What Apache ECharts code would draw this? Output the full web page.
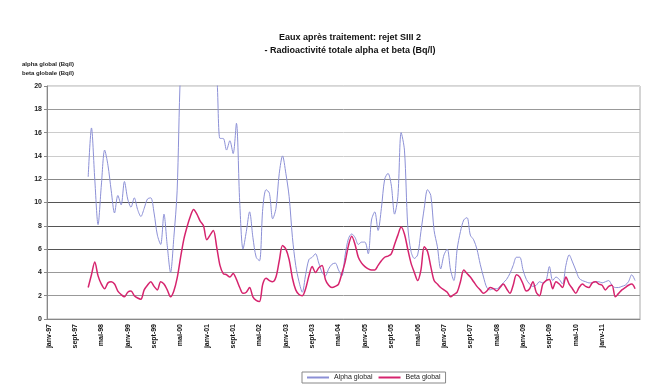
<!DOCTYPE html>
<html>
<head>
<meta charset="utf-8">
<script src="https://cdn.jsdelivr.net/npm/echarts@6/dist/echarts.min.js"></script>
<style>
  html, body { margin: 0; padding: 0; background: #fff; }
  #chart { width: 660px; height: 390px; }
</style>
</head>
<body>
<div id="chart"></div>
<script>
// Eaux après traitement - alpha / beta global, mensuel
const MONTHS = ["janv", "févr", "mars", "avr", "mai", "juin", "juil", "août", "sept", "oct", "nov", "déc"];
const START_YEAR = 1997;
const N_MONTHS = 180;
const FIRST_DATA = 12; // pas de mesure la première année

const alphaGlobal = [
  12.2, 16.4, 12.0, 8.1, 11.5, 14.5, 13.2, 11.0, 9.1, 10.6,
  9.8, 11.8, 10.3, 9.6, 10.4, 9.4, 8.8, 9.5, 10.3, 10.4,
  9.1, 7.2, 6.4, 9.0, 6.3, 4.0, 7.0, 11.0, 21.0, 24.0,
  23.0, 25.0, 24.0, 22.0, 24.0, 23.0, 25.0, 24.0, 22.0, 21.0,
  15.5, 15.5, 14.5, 15.3, 14.2, 16.8, 10.0, 6.0, 7.5, 9.2,
  7.0, 5.3, 5.0, 9.5, 11.1, 10.8, 8.6, 9.5, 12.5, 14.0,
  12.5, 10.5, 7.0, 4.6, 3.2, 2.3, 3.8, 5.1, 5.3, 5.6,
  4.8, 4.0, 3.7, 4.3, 4.7, 4.8, 4.2, 3.7, 5.5, 6.9,
  7.3, 7.0, 6.4, 6.6, 6.6, 5.6, 8.5, 9.2, 7.6, 9.5,
  12.0, 12.5, 11.5, 9.0, 10.5, 16.0, 14.5, 8.0, 5.8, 5.2,
  5.5, 7.5, 9.5, 11.1, 10.6, 7.6, 6.2, 4.3, 5.5, 6.0,
  4.2, 3.3, 6.0, 7.5, 8.5, 8.7, 7.2, 6.8, 6.0, 4.7,
  3.6, 2.7, 2.5, 2.6, 2.6, 2.8, 3.1, 3.4, 3.9, 4.6,
  5.3, 5.3, 4.2, 3.4, 3.0, 2.8, 2.9, 3.2, 3.1, 3.3,
  4.5, 3.3, 3.6, 3.4, 3.0, 4.6, 5.5, 4.9, 4.2, 3.5,
  3.3, 3.2, 3.1, 3.1, 3.2, 3.2, 3.1, 3.2, 3.3, 2.9,
  2.7, 2.7, 2.8, 2.9, 3.2, 3.8, 3.3
];

const betaGlobal = [
  2.7, 3.8, 4.9, 3.7, 3.0, 2.6, 3.1, 3.2, 3.0, 2.4,
  2.1, 1.9, 2.3, 2.4, 2.0, 1.8, 1.7, 2.5, 2.9, 3.2,
  2.8, 2.5, 3.2, 3.0, 2.5, 1.9, 2.4, 3.5, 5.2, 6.8,
  7.9, 8.8, 9.4, 9.0, 8.4, 8.0, 6.8, 7.2, 7.6, 6.2,
  4.6, 3.9, 3.8, 3.6, 3.9, 3.4, 2.7, 2.2, 2.3, 2.7,
  1.9, 1.6, 1.5, 3.0, 3.5, 3.3, 3.2, 3.6, 5.0, 6.3,
  6.0, 5.1, 3.5, 2.5, 2.1, 2.0, 2.6, 3.7, 4.5, 4.0,
  4.4, 4.6, 3.4, 2.9, 2.7, 2.8, 3.0, 3.9, 4.9, 6.3,
  7.1, 6.4, 5.3, 4.8, 4.5, 4.3, 4.2, 4.2, 4.6, 5.0,
  5.3, 5.4, 5.6, 6.4, 7.2, 7.9, 7.3, 6.0, 4.8, 4.0,
  3.3, 4.2, 6.2, 5.8, 4.5, 3.3, 3.0, 2.7, 2.5, 2.3,
  1.9, 2.1, 2.3, 3.2, 4.2, 3.9, 3.6, 3.2, 2.8, 2.5,
  2.2, 2.4, 2.7, 2.6, 2.4, 2.7, 3.0, 2.6, 2.2, 2.9,
  3.8, 3.6, 3.0, 2.4, 2.6, 3.2, 2.3, 2.0, 3.0, 3.3,
  3.4, 2.6, 3.2, 3.0, 2.7, 3.6, 3.0, 2.6, 2.2, 2.7,
  3.0, 2.8, 2.7, 3.1, 3.2, 3.0, 2.9, 2.5, 2.8, 2.9,
  1.9, 2.2, 2.5, 2.7, 2.9, 3.0, 2.6
];

const yTicks = [0, 2, 4, 6, 8, 10, 12, 14, 16, 18, 20];
const gridColors = ["#999", "#999", "#999", "#555", "#555", "#555", "#888", "#ccc", "#ccc", "#999", "#ddd"];

const categories = [];
for (let i = 0; i < N_MONTHS; i++) {
  const y = START_YEAR + Math.floor(i / 12);
  categories.push(MONTHS[i % 12] + "-" + String(y % 100).padStart(2, "0"));
}
function pad(arr) {
  const out = new Array(N_MONTHS).fill(null);
  arr.forEach(function (v, k) { out[FIRST_DATA + k] = v; });
  return out;
}

const FONT = "Liberation Sans";
const chart = echarts.init(document.getElementById("chart"), null, { renderer: "canvas" });
chart.setOption({
  backgroundColor: "#fff",
  animation: false,
  title: {
    text: "Eaux après traitement: rejet SIII 2\n- Radioactivité totale alpha et beta (Bq/l)",
    left: 345,
    textAlign: "center",
    top: 26,
    textStyle: { fontFamily: FONT, fontSize: 9, fontWeight: "bold", color: "#111", lineHeight: 13 }
  },
  legend: {
    bottom: 7,
    left: 302,
    itemWidth: 22,
    itemHeight: 2,
    itemGap: 6,
    borderColor: "#888",
    borderWidth: 1,
    padding: [2, 5],
    icon: "rect",
    textStyle: { fontFamily: FONT, fontSize: 7, color: "#222" },
    data: ["Alpha global", "Beta global"]
  },
  grid: { left: 47, right: 20, top: 86, bottom: 71, show: true, borderColor: "#aaa", borderWidth: 1 },
  xAxis: {
    type: "category",
    data: categories,
    boundaryGap: true,
    axisLine: { lineStyle: { color: "#888" } },
    axisTick: { show: false },
    axisLabel: {
      rotate: 90,
      fontFamily: FONT,
      fontSize: 7,
      fontWeight: "bold",
      color: "#111",
      margin: 5,
      interval: function (i) { return i % 8 === 0 && i <= 168; }
    }
  },
  yAxis: {
    type: "value",
    min: 0,
    max: 20,
    interval: 2,
    name: "alpha global (Bq/l)\nbeta globale (Bq/l)",
    nameLocation: "end",
    nameGap: 8,
    nameTextStyle: { fontFamily: FONT, fontSize: 6, fontWeight: "bold", color: "#222", align: "left", padding: [0, 0, 0, -25], lineHeight: 9 },
    axisLine: { show: true, lineStyle: { color: "#888" } },
    axisTick: { show: true, length: 3, lineStyle: { color: "#888" } },
    axisLabel: { fontFamily: FONT, fontSize: 7, fontWeight: "bold", color: "#222", margin: 5 },
    splitLine: { show: true, lineStyle: { color: gridColors, width: 1 } }
  },
  series: [
    {
      name: "Alpha global",
      type: "line",
      data: pad(alphaGlobal),
      symbol: "none",
      smooth: 0.3,
      clip: true,
      lineStyle: { color: "#8c90d6", width: 1 },
      itemStyle: { color: "#8c90d6" }
    },
    {
      name: "Beta global",
      type: "line",
      data: pad(betaGlobal),
      symbol: "none",
      smooth: 0.3,
      clip: true,
      lineStyle: { color: "#d6246e", width: 1.5 },
      itemStyle: { color: "#d6246e" }
    }
  ]
});
</script>
</body>
</html>
